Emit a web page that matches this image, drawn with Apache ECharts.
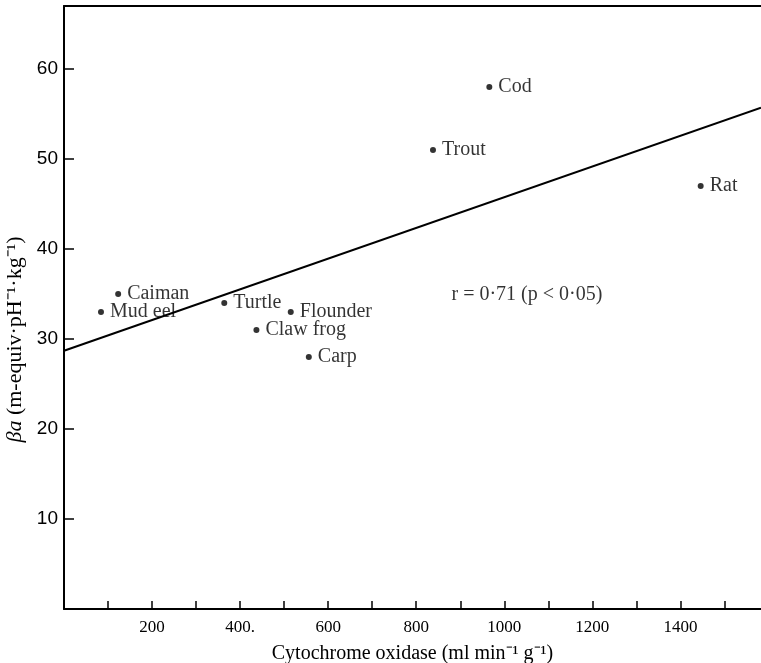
<!DOCTYPE html>
<html>
<head>
<meta charset="utf-8">
<script src="https://cdn.jsdelivr.net/npm/echarts@6/dist/echarts.min.js"></script>
<style>
  html, body { margin: 0; padding: 0; background: #fff; }
  #chart { width: 761px; height: 663px; }
</style>
</head>
<body>
<div id="chart"></div>
<script>
// species
var names = ['Mud eel', 'Caiman', 'Turtle', 'Claw frog', 'Flounder', 'Carp', 'Trout', 'Cod', 'Rat']
var oxidase = [84, 123, 364, 437, 515, 556, 838, 966, 1446]
var buffering = [33, 35, 34, 31, 33, 28, 51, 58, 47]

// regression line end points
var fitX = [0, 1583]
var fitY = [28.7, 55.7]

// tick labels shown on the axes
var xTickValues = [200, 400, 600, 800, 1000, 1200, 1400]
var xTickLabels = ['200', '400.', '600', '800', '1000', '1200', '1400']
var yTickValues = [10, 20, 30, 40, 50, 60]

var note = { x: 880, y: 34.9, text: 'r = 0·71 (p < 0·05)' }

var serif = 'Liberation Serif'

var chart = echarts.init(document.getElementById('chart'))

chart.setOption({
  animation: false,
  grid: { left: 64, right: 0, top: 6, bottom: 54, containLabel: false, outerBoundsMode: 'none' },
  xAxis: [
    {
      type: 'value',
      min: 0,
      max: 1583,
      interval: 100,
      splitLine: { show: false },
      axisLine: { lineStyle: { color: '#000', width: 2 } },
      axisTick: { inside: true, length: 8, lineStyle: { color: '#000', width: 1.5 } },
      axisLabel: {
        showMaxLabel: false,
        showMinLabel: false,
        margin: 10,
        color: '#000',
        fontFamily: serif,
        fontSize: 17,
        formatter: function(v) {
          var i = xTickValues.indexOf(v)
          return i < 0 ? '' : xTickLabels[i]
        }
      },
      name: 'Cytochrome oxidase (ml min⁻¹ g⁻¹)',
      nameLocation: 'middle',
      nameGap: 35,
      nameTextStyle: { color: '#000', fontFamily: serif, fontSize: 20 }
    },
    {
      // top frame line
      type: 'value',
      position: 'top',
      min: 0,
      max: 1583,
      axisLine: { show: true, lineStyle: { color: '#000', width: 2 } },
      axisTick: { show: false },
      axisLabel: { show: false },
      splitLine: { show: false }
    }
  ],
  yAxis: {
    type: 'value',
    min: 0,
    max: 67,
    interval: 10,
    splitLine: { show: false },
    axisLine: { lineStyle: { color: '#000', width: 2 } },
    axisTick: { inside: true, length: 10, lineStyle: { color: '#000', width: 1.5 } },
    axisLabel: {
      margin: 6,
      color: '#000',
      fontFamily: 'Liberation Sans',
      fontSize: 19,
      formatter: function(v) {
        return yTickValues.indexOf(v) < 0 ? '' : String(v)
      }
    },
    name: '{it|βa} (m-equiv·pH⁻¹·kg⁻¹)',
    nameLocation: 'middle',
    nameGap: 37,
    nameTextStyle: {
      color: '#000',
      fontFamily: serif,
      fontSize: 22,
      padding: [0, 64, 0, 0],
      rich: {
        it: { fontStyle: 'italic', fontFamily: serif, fontSize: 22, color: '#000' }
      }
    }
  },
  series: [
    {
      type: 'line',
      data: fitX.map(function(x, i) { return [x, fitY[i]] }),
      symbol: 'none',
      lineStyle: { color: '#000', width: 2 },
      silent: true
    },
    {
      type: 'scatter',
      data: oxidase.map(function(x, i) { return { name: names[i], value: [x, buffering[i]] } }),
      symbolSize: 6,
      itemStyle: { color: '#000' },
      label: {
        show: true,
        position: 'right',
        distance: 6,
        formatter: '{b}',
        color: '#000',
        fontFamily: serif,
        fontSize: 20
      }
    },
    {
      type: 'scatter',
      data: [{ name: note.text, value: [note.x, note.y] }],
      symbolSize: 0,
      label: {
        show: true,
        position: 'right',
        distance: 0,
        formatter: '{b}',
        color: '#000',
        fontFamily: serif,
        fontSize: 20
      }
    }
  ]
})
</script>
</body>
</html>
